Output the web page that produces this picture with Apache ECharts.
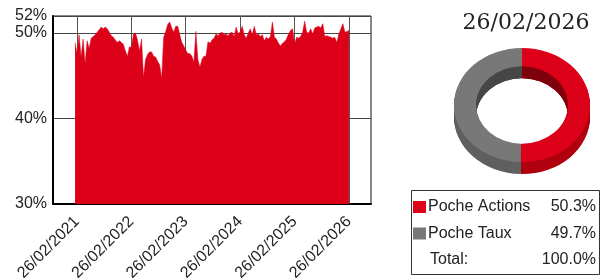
<!DOCTYPE html>
<html>
<head>
<meta charset="utf-8">
<script src="https://cdn.jsdelivr.net/npm/echarts@6/dist/echarts.min.js"></script>
<style>
  html, body { margin: 0; padding: 0; background: #fff; }
  #chart { width: 601px; height: 278px; }
</style>
</head>
<body>
<div id="chart"></div>
<script>
// history of the equity share, evenly spaced between the two dates
const startDate = '2021-02-13';
const endDate = '2026-02-26';
const tickDates = ['2021-02-26', '2022-02-26', '2023-02-26', '2024-02-26', '2025-02-26', '2026-02-26'];
const actionsPct = [
  48.9, 47.6, 49.8, 47.2, 49.3, 46.4, 49.1, 48.2, 49.4, 49.6,
  49.8, 50.1, 50.4, 50.7, 50.5, 50.7, 50.5, 50.1, 49.7, 49.5,
  49.2, 48.9, 49.1, 48.9, 48.7, 47.9, 47.3, 48.4, 48.3, 49.9,
  50.0, 49.2, 47.9, 49.3, 44.8, 46.9, 47.5, 47.8, 47.8, 47.3,
  47.2, 46.7, 46.3, 44.7, 49.5, 50.2, 51.0, 51.3, 50.6, 50.1,
  50.8, 50.8, 49.8, 48.9, 48.5, 48.0, 47.6, 47.6, 47.3, 46.6,
  50.2, 46.9, 46.0, 46.9, 47.3, 47.3, 49.0, 48.8, 49.2, 49.4,
  49.9, 49.7, 50.0, 50.1, 49.8, 49.9, 49.7, 50.0, 50.1, 49.6,
  50.7, 49.9, 50.2, 50.8, 49.8, 49.4, 50.0, 50.5, 49.8, 50.8,
  49.8, 49.9, 49.6, 49.8, 49.1, 49.5, 49.3, 49.6, 51.3, 49.5,
  49.3, 48.8, 48.5, 48.8, 49.0, 49.3, 49.9, 50.3, 50.5, 48.7,
  49.5, 49.4, 49.6, 50.1, 51.4, 50.1, 50.0, 50.5, 49.9, 50.6,
  50.7, 50.8, 50.6, 51.1, 49.6, 49.7, 49.6, 49.5, 49.4, 49.5,
  48.9, 49.9, 50.5, 51.1, 50.1, 50.2, 50.3
];

// allocation on the last date
const snapshotLabel = '26/02/2026';
const pocheNames = ['Poche Actions', 'Poche Taux'];
const pocheValues = [50.3, 49.7];
const pocheColors = ['#dc0019', '#787878'];
const outerWallColors = ['#b0000f', '#606060'];
const innerWallColors = ['#7f000b', '#474747'];

const RED = '#dc0019';
const FONT = '"Liberation Sans", Arial, sans-serif';
const DAY = 86400000;

function toTime(s) {
  const p = s.split('-');
  return Date.UTC(+p[0], +p[1] - 1, +p[2]);
}
function pad(n) { return n < 10 ? '0' + n : '' + n; }

const t0 = toTime(startDate);
const spanDays = (toTime(endDate) - t0) / DAY;
// x axis runs in days since the start date
const toDay = s => Math.round((toTime(s) - t0) / DAY);
const fmtDay = v => {
  const d = new Date(t0 + Math.round(v) * DAY);
  return pad(d.getUTCDate()) + '/' + pad(d.getUTCMonth() + 1) + '/' + d.getUTCFullYear();
};
const seriesData = actionsPct.map((v, i) => [spanDays * i / (actionsPct.length - 1), v]);
const tickDays = tickDates.map(toDay);

const total = pocheValues.reduce((a, b) => a + b, 0);
const cumStart = [];
pocheValues.reduce((acc, v, i) => { cumStart[i] = acc; return acc + v; }, 0);

// donut geometry
const cx = 522, cy = 105, rOut = 68, rIn = 46, squash = 0.84, depth = 12;

function renderDonut(params, api) {
  const i = params.dataIndex;
  const a0 = -Math.PI / 2 + 2 * Math.PI * cumStart[i] / total;
  const a1 = a0 + 2 * Math.PI * api.value(0) / total;
  const children = [];
  function sector(r0, r, dy, color, z2) {
    children.push({
      type: 'sector',
      x: cx, y: cy + dy, scaleY: squash,
      shape: { cx: 0, cy: 0, r0: r0, r: r, startAngle: a0, endAngle: a1, clockwise: true },
      style: { fill: color },
      z2: z2
    });
  }
  for (let d = depth; d >= 1; d--) sector(rIn, rOut, d, outerWallColors[i], 1);
  for (let d = depth; d >= 1; d--) sector(rIn, rIn + 4, d, innerWallColors[i], 2);
  sector(rIn, rOut, 0, pocheColors[i], 3);
  return { type: 'group', children: children };
}

// legend box drawn from the allocation arrays
const legendTop = 190, rowH = 26.5;
const legendGraphics = [{
  type: 'rect',
  shape: { x: 411.5, y: legendTop + 0.5, width: 188, height: 84 },
  style: { fill: '#fff', stroke: '#333', lineWidth: 1 }
}];
pocheNames.forEach((name, i) => {
  const yc = legendTop + 17 + i * rowH;
  legendGraphics.push(
    { type: 'rect', shape: { x: 413, y: yc - 6, width: 13, height: 12 }, style: { fill: pocheColors[i] } },
    { type: 'text', x: 428, y: yc, style: { text: name, font: '16px ' + FONT, fill: '#222', verticalAlign: 'middle' } },
    { type: 'text', x: 596, y: yc, style: { text: pocheValues[i].toFixed(1) + '%', font: '16px ' + FONT, fill: '#222', align: 'right', verticalAlign: 'middle' } }
  );
});
const totalY = legendTop + 17 + pocheNames.length * rowH;
legendGraphics.push(
  { type: 'text', x: 430, y: totalY, style: { text: 'Total:', font: '16px ' + FONT, fill: '#222', verticalAlign: 'middle' } },
  { type: 'text', x: 596, y: totalY, style: { text: total.toFixed(1) + '%', font: '16px ' + FONT, fill: '#222', align: 'right', verticalAlign: 'middle' } }
);

const chart = echarts.init(document.getElementById('chart'), null, { renderer: 'canvas' });
chart.setOption({
  animation: false,
  backgroundColor: '#fff',
  title: {
    text: snapshotLabel,
    left: cx - 1, top: 7, textAlign: 'center',
    textStyle: { fontFamily: '"DejaVu Serif", serif', fontSize: 22, fontWeight: 'normal', color: '#222' }
  },
  grid: {
    left: 53, right: 230, top: 16, bottom: 74,
    outerBoundsMode: 'none', containLabel: false,
    show: true, borderColor: '#111', borderWidth: 1, backgroundColor: 'transparent'
  },
  xAxis: {
    type: 'value',
    min: toDay('2020-09-18'),
    max: toDay('2026-07-24'),
    axisLine: { show: true, onZero: false, lineStyle: { color: '#000', width: 2 } },
    axisTick: { show: false, customValues: tickDays },
    splitLine: { show: true, lineStyle: { color: '#555', width: 1 } },
    axisLabel: {
      customValues: tickDays,
      rotate: 45, margin: 15,
      fontSize: 16, fontFamily: FONT, color: '#222',
      formatter: fmtDay
    }
  },
  yAxis: {
    type: 'value',
    min: 30, max: 52, interval: 10,
    axisLine: { show: true, onZero: false, lineStyle: { color: '#000', width: 2 } },
    axisTick: { show: false },
    splitLine: { show: true, lineStyle: { color: '#444', width: 1 } },
    axisLabel: {
      margin: 6, fontSize: 16, fontFamily: FONT, color: '#222',
      formatter: '{value}%'
    }
  },
  graphic: legendGraphics,
  series: [
    {
      type: 'line',
      data: seriesData,
      symbol: 'none',
      lineStyle: { width: 0.5, color: RED },
      areaStyle: { color: RED, opacity: 1, origin: 'start' }
    },
    {
      type: 'custom',
      coordinateSystem: 'none',
      data: pocheValues.map((v, i) => ({ name: pocheNames[i], value: [v] })),
      renderItem: renderDonut
    }
  ]
});
</script>
</body>
</html>
